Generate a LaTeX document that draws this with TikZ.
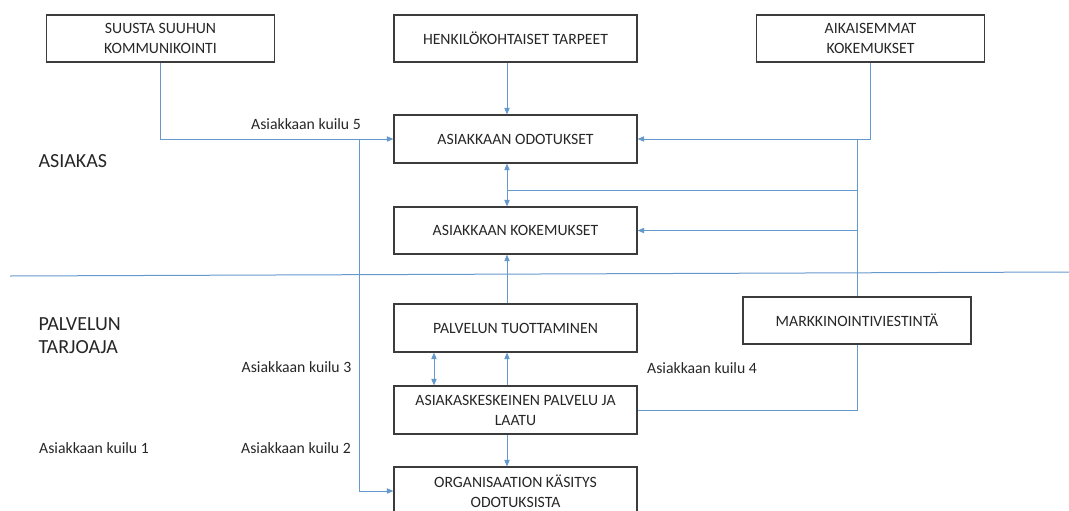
\documentclass[tikz,border=0pt]{standalone}
\usepackage{fontspec}
\setmainfont{Carlito}
\usetikzlibrary{arrows.meta}

\definecolor{linkblue}{RGB}{101,152,204}
\definecolor{boxgray}{RGB}{60,60,60}
\definecolor{inkgray}{RGB}{38,38,38}

\tikzset{every picture/.style={line width=0.75pt}}
\tikzset{
  box/.style={draw=boxgray, line width=0.8pt, minimum width=182.25pt, minimum height=36pt,
    align=center, text=inkgray, font=\fontsize{11.8}{15}\selectfont, inner sep=1pt},
  smallbox/.style={box, minimum width=170.5pt, minimum height=35.25pt},
  gaplabel/.style={text=inkgray, font=\fontsize{11.8}{15}\selectfont, inner sep=0pt},
  sidelabel/.style={text=inkgray, font=\fontsize{15}{17.75}\selectfont, align=left, inner sep=0pt, anchor=west},
  link/.style={draw=linkblue, line width=0.75pt},
  tip/.style={link, -{Triangle[length=5pt,width=4pt]}},
  twotip/.style={link, {Triangle[length=5pt,width=4pt]}-{Triangle[length=5pt,width=4pt]}}
}

\begin{document}
\begin{tikzpicture}[x=0.75pt,y=0.75pt,yscale=-1,xscale=1]
\useasboundingbox (0,0) rectangle (1069,510);

%Columns used by the vertical connectors
\coordinate (mid) at (507,0);
\coordinate (lft) at (434,0);
\coordinate (gap5) at (359,0);
\coordinate (split) at (507,190);
\coordinate (sepl) at (10,276);
\coordinate (sepr) at (1069,272);

%Shape: Rectangle
\node [smallbox] (suusta) at (160.5,38.5) {SUUSTA SUUHUN\\KOMMUNIKOINTI};
%Shape: Rectangle
\node [box, minimum height=35.25pt] (henkilo) at (515.5,38.5) {HENKILÖKOHTAISET TARPEET};
%Shape: Rectangle
\node [smallbox] (aikaisemmat) at (870.5,38.5) {AIKAISEMMAT\\KOKEMUKSET};
%Shape: Rectangle
\node [box] (odotukset) at (515.5,139) {ASIAKKAAN ODOTUKSET};
%Shape: Rectangle
\node [box, minimum height=35.25pt] (kokemukset) at (515.5,230.5) {ASIAKKAAN KOKEMUKSET};
%Shape: Rectangle
\node [box] (tuottaminen) at (515.5,328) {PALVELUN TUOTTAMINEN};
%Shape: Rectangle
\node [box] (keskeinen) at (515.5,410) {ASIAKASKESKEINEN PALVELU JA\\LAATU};
%Shape: Rectangle
\node [box] (organisaatio) at (515.5,491) {ORGANISAATION KÄSITYS\\ODOTUKSISTA};
%Shape: Rectangle
\node [smallbox, minimum width=171pt] (markkinointi) at (857,320.5) {MARKKINOINTIVIESTINTÄ};

%Straight Lines
\draw [link] (sepl) -- (sepr);

%Straight Lines
\draw [tip] (suusta.south) |- (odotukset.west);
\draw [tip] (odotukset.west -| gap5) |- (organisaatio.west);
\draw [tip] (henkilo.south -| mid) -- (odotukset.north -| mid);
\draw [tip] (aikaisemmat.south) |- (odotukset.east);
\draw [link] (odotukset.east -| markkinointi) -- (markkinointi.north);
\draw [link] (markkinointi.south) |- (keskeinen.east);
\draw [link] (markkinointi |- split) -- (split);
\draw [tip] (split) -- (odotukset.south -| mid);
\draw [tip] (split) -- (kokemukset.north -| mid);
\draw [tip] (kokemukset.east -| markkinointi) -- (kokemukset.east);
\draw [tip] (tuottaminen.north -| mid) -- (kokemukset.south -| mid);
\draw [twotip] (keskeinen.north -| lft) -- (tuottaminen.south -| lft);
\draw [tip] (keskeinen.north -| mid) -- (tuottaminen.south -| mid);
\draw [tip] (keskeinen.south -| mid) -- (organisaatio.north -| mid);

% Text Node
\node [sidelabel] (asiakas) at (38,161) {ASIAKAS};
% Text Node
\node [sidelabel] (tarjoaja) at (38,335.5) {PALVELUN\\TARJOAJA};
% Text Node
\node [gaplabel] (kuilu5) at (306,124) {Asiakkaan kuilu 5};
% Text Node
\node [gaplabel] (kuilu3) at (296.5,367) {Asiakkaan kuilu 3};
% Text Node
\node [gaplabel] (kuilu4) at (702,368) {Asiakkaan kuilu 4};
% Text Node
\node [gaplabel] (kuilu1) at (94,448) {Asiakkaan kuilu 1};
% Text Node
\node [gaplabel] (kuilu2) at (296,448) {Asiakkaan kuilu 2};

\end{tikzpicture}
\end{document}
